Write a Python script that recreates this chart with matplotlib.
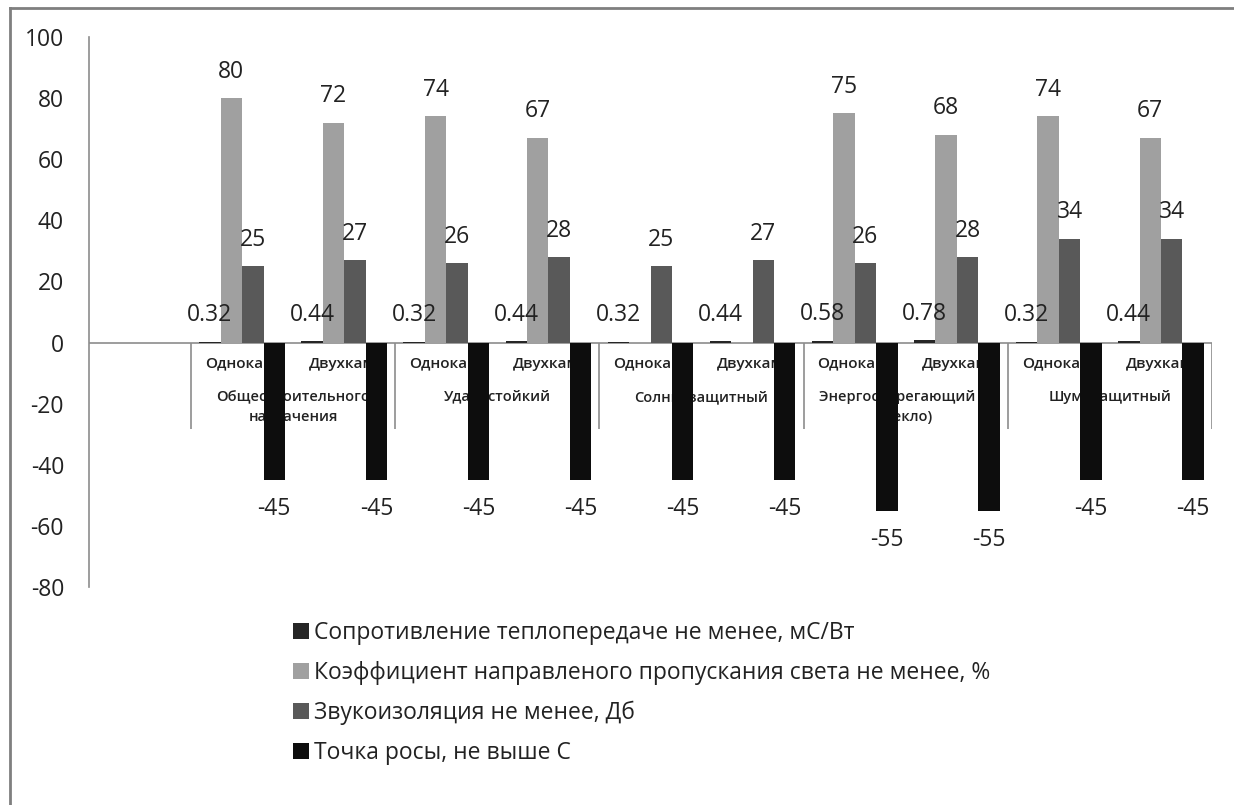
import matplotlib
matplotlib.use("Agg")
import matplotlib.pyplot as plt
from matplotlib.lines import Line2D
import numpy as np

plt.rcParams['font.family'] = ['Open Sans', 'DejaVu Sans']

# Window types: subcategory (chamber count) and glass group
chambers = ["Однокам.", "Двухкам.", "Однокам.", "Двухкам.", "Однокам.",
            "Двухкам.", "Однокам.", "Двухкам.", "Однокам.", "Двухкам."]
groups = ["Общестроительного\nназначения", "Ударостойкий", "Солнцезащитный",
          "Энергосберегающий (i-\nстекло)", "Шумозащитный"]

series_names = ["Сопротивление теплопередаче не менее, мС/Вт",
                "Коэффициент направленого пропускания света не менее, %",
                "Звукоизоляция не менее, Дб",
                "Точка росы, не выше С"]
resistance = [0.32, 0.44, 0.32, 0.44, 0.32, 0.44, 0.58, 0.78, 0.32, 0.44]
light = [80, 72, 74, 67, np.nan, np.nan, 75, 68, 74, 67]
sound = [25, 27, 26, 28, 25, 27, 26, 28, 34, 34]
dew_point = [-45, -45, -45, -45, -45, -45, -55, -55, -45, -45]

colors = ["#262626", "#a0a0a0", "#595959", "#0d0d0d"]
label_fmt = ["{:.2f}", "{:.0f}", "{:.0f}", "{:.0f}"]
y_ticks = [100, 80, 60, 40, 20, 0, -20, -40, -60, -80]

text_color = "#222222"
axis_color = "#8c8c8c"

fig = plt.figure(figsize=(12.34, 8.05), dpi=100)
ax = fig.add_axes([89 / 1234, 1 - 587 / 805, (1212 - 89) / 1234, (587 - 37) / 805])

# first slot of the category axis is left empty
x = np.arange(len(chambers)) + 1.5
width = 0.21
all_series = [resistance, light, sound, dew_point]
handles = []
for i, (vals, col) in enumerate(zip(all_series, colors)):
    pos = x + (i - 1.5) * width
    bars = ax.bar(pos, vals, width=width, color=col, zorder=3, linewidth=0)
    handles.append(bars)
    for xp, v in zip(pos, vals):
        if np.isnan(v):
            continue
        off = 19 if v >= 0 else -21
        ax.annotate(label_fmt[i].format(v), (xp, v), xytext=(0, off),
                    textcoords="offset points", ha="center", va="center",
                    fontsize=16.5, color=text_color, zorder=4)

ax.set_xlim(0, 11)
ax.set_ylim(-80, 100)
ax.set_yticks(y_ticks)
ax.set_yticklabels([str(t) for t in y_ticks])
ax.tick_params(axis='y', length=0, pad=18, labelsize=16.5, labelcolor=text_color)
ax.set_xticks([])
for s in ["top", "right", "bottom"]:
    ax.spines[s].set_visible(False)
ax.spines["left"].set_color(axis_color)
ax.spines["left"].set_linewidth(1.2)

# category axis along zero
ax.axhline(0, color=axis_color, linewidth=1.2, zorder=2)
ax.vlines([1, 3, 5, 7, 9, 11], -28.2, 0, color=axis_color, linewidth=1.2, zorder=2)

for xp, name in zip(x, chambers):
    ax.text(xp, -6.9, name, ha="center", va="center", fontsize=11,
            fontweight="semibold", color=text_color, zorder=1)
for g, name in enumerate(groups):
    ax.text(2 + 2 * g, -15.6, name, ha="center", va="top", fontsize=10.5,
            fontweight="semibold", color=text_color, zorder=1,
            linespacing=1.5)

fig.legend(handles, series_names, loc="upper left",
           bbox_to_anchor=(293 / 1234, 1 - 621 / 805), frameon=False,
           fontsize=16.5, handlelength=0.7, handleheight=0.7,
           handletextpad=0.22, labelspacing=0.69, borderaxespad=0,
           borderpad=0, labelcolor=text_color)

# outer frame (left and top edges)
fig.add_artist(Line2D([10 / 1234, 10 / 1234], [0, 1 - 8 / 805],
                      transform=fig.transFigure, color="#7f7f7f", linewidth=2))
fig.add_artist(Line2D([10 / 1234, 1], [1 - 8 / 805, 1 - 8 / 805],
                      transform=fig.transFigure, color="#7f7f7f", linewidth=2))

fig.savefig("out.png", dpi=100, facecolor="white")
